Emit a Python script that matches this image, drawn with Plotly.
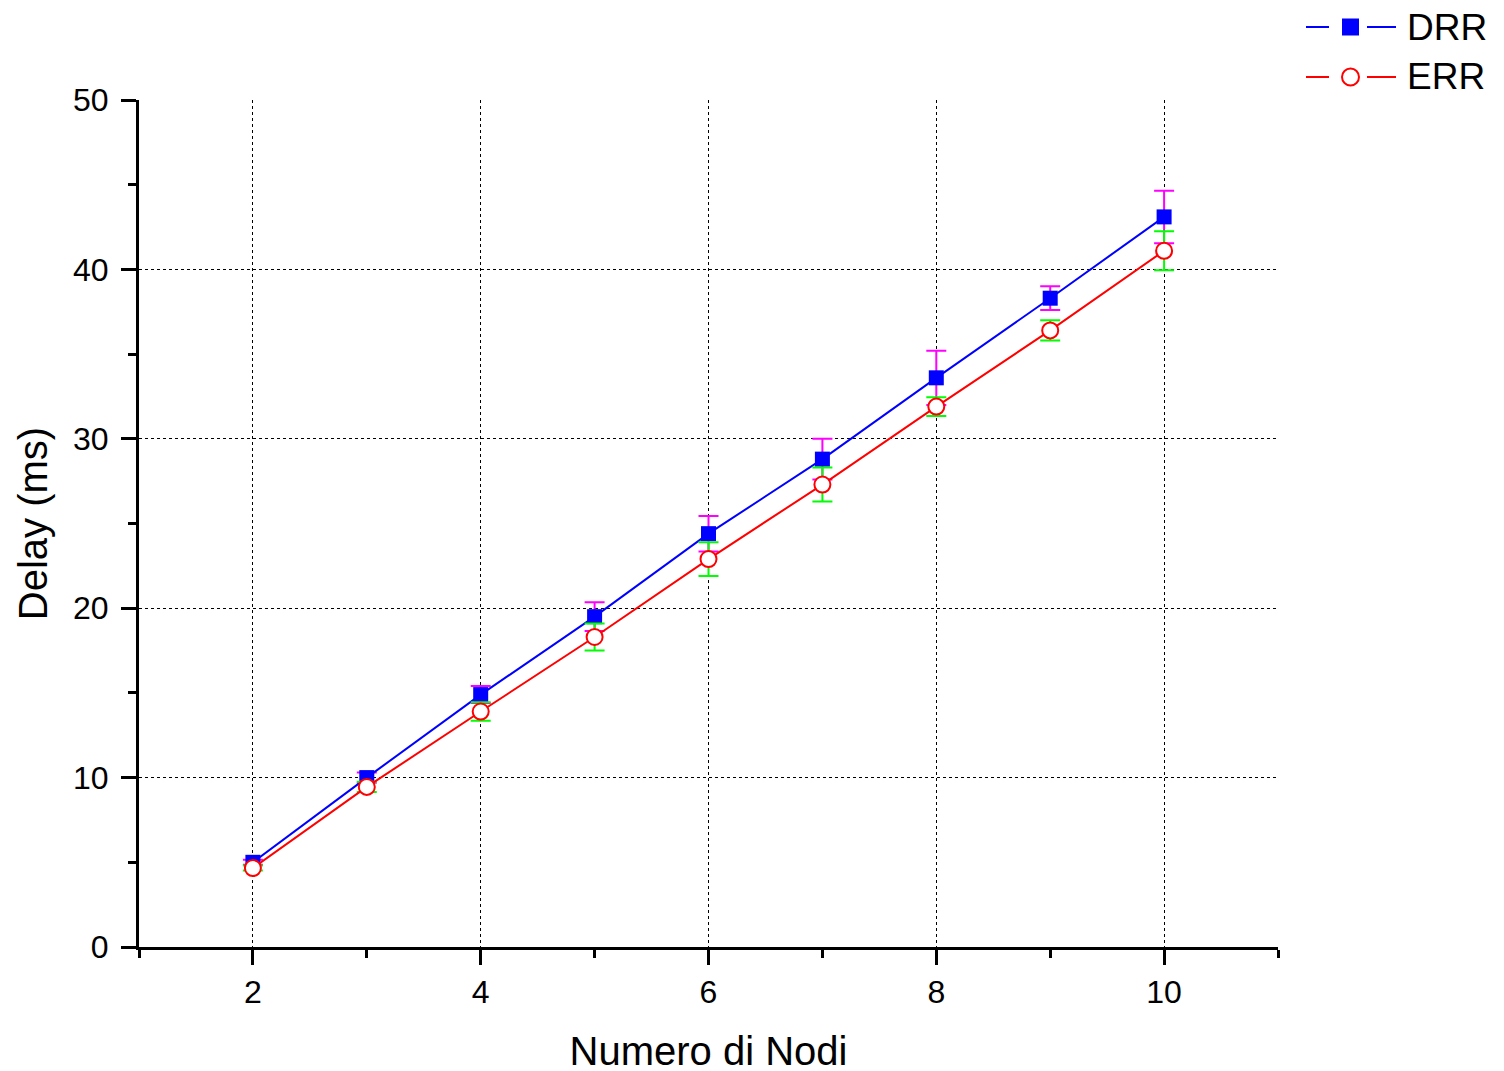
import plotly.graph_objects as go

nodes = [2, 3, 4, 5, 6, 7, 8, 9, 10]
drr = [5.0, 10.0, 14.9, 19.5, 24.4, 28.8, 33.6, 38.3, 43.1]
drr_err = [0.15, 0.3, 0.5, 0.85, 1.05, 1.2, 1.6, 0.7, 1.55]
err = [4.66, 9.45, 13.9, 18.3, 22.9, 27.3, 31.9, 36.4, 41.1]
err_err = [0.15, 0.3, 0.55, 0.8, 1.0, 1.0, 0.55, 0.6, 1.15]
series_names = ["DRR", "ERR"]

FONT = "Arial, Liberation Sans, sans-serif"
W, H = 1504, 1071
OFF = 8  # page body margin
L, T = 139 - OFF, 100 - OFF
R = W - (1278 - OFF)
B = H - (947 - OFF)
PW, PH = W - L - R, H - T - B


def px(xp):
    return (xp - OFF - L) / PW


def py(yp):
    return (H - B - (yp - OFF)) / PH


fig = go.Figure()
fig.add_trace(go.Scatter(
    x=nodes, y=drr, name=series_names[0], mode="lines+markers",
    line=dict(color="#0000ff", width=2),
    marker=dict(symbol="square", size=15, color="#0000ff", line=dict(width=0)),
    error_y=dict(type="data", array=drr_err, visible=True, color="#ff00ff", thickness=2, width=10),
))
fig.add_trace(go.Scatter(
    x=nodes, y=err, name=series_names[1], mode="lines+markers",
    line=dict(color="#ff0000", width=2),
    marker=dict(symbol="circle", size=16, color="white", line=dict(width=2, color="#ff0000")),
    error_y=dict(type="data", array=err_err, visible=True, color="#00ff00", thickness=2, width=10),
))

# manual legend (Origin style: line - marker - line)
shapes = []
annotations = []
leg = [(27, "#0000ff", "rect", series_names[0]), (77, "#ff0000", "circle", series_names[1])]
for yc, col, kind, label in leg:
    for x0, x1 in [(1306, 1329), (1367, 1396)]:
        shapes.append(dict(type="line", xref="paper", yref="paper",
                           x0=px(x0), x1=px(x1), y0=py(yc), y1=py(yc),
                           line=dict(color=col, width=2)))
    if kind == "rect":
        shapes.append(dict(type="rect", xref="paper", yref="paper",
                           x0=px(1342), x1=px(1359), y0=py(yc - 8.5), y1=py(yc + 8.5),
                           fillcolor=col, line=dict(width=0)))
    else:
        shapes.append(dict(type="circle", xref="paper", yref="paper",
                           x0=px(1342), x1=px(1359), y0=py(yc - 8.5), y1=py(yc + 8.5),
                           fillcolor="white", line=dict(color=col, width=2)))
    annotations.append(dict(text=label, xref="paper", yref="paper",
                            x=px(1405), y=py(yc), xanchor="left", yanchor="middle",
                            showarrow=False, font=dict(size=37, family=FONT, color="black")))

fig.update_layout(
    width=W, height=H,
    paper_bgcolor="white", plot_bgcolor="white",
    margin=dict(l=L, r=R, t=T, b=B, autoexpand=False),
    font=dict(family=FONT, color="black"),
    showlegend=False,
    shapes=shapes,
    annotations=annotations,
)
fig.update_xaxes(
    range=[1, 11], dtick=2, tick0=0, automargin=False,
    showline=True, linecolor="black", linewidth=3,
    ticks="outside", ticklen=15, tickwidth=3, tickcolor="black",
    minor=dict(dtick=1, ticklen=8, tickwidth=3, tickcolor="black", ticks="outside", showgrid=False),
    showgrid=True, gridcolor="black", gridwidth=1, griddash="dot",
    zeroline=False,
    tickfont=dict(size=32, family=FONT),
    title=dict(text="Numero di Nodi", font=dict(size=40, family=FONT), standoff=28),
)
fig.update_yaxes(
    range=[0, 50], dtick=10, automargin=False,
    showline=True, linecolor="black", linewidth=3,
    ticks="outside", ticklen=15, tickwidth=3, tickcolor="black",
    minor=dict(dtick=5, ticklen=8, tickwidth=3, tickcolor="black", ticks="outside", showgrid=False),
    showgrid=True, gridcolor="black", gridwidth=1, griddash="dot",
    zeroline=False, ticklabelstandoff=6,
    tickfont=dict(size=32, family=FONT),
    title=dict(text="Delay (ms)", font=dict(size=40, family=FONT), standoff=14),
)

fig.write_html("out.html")
